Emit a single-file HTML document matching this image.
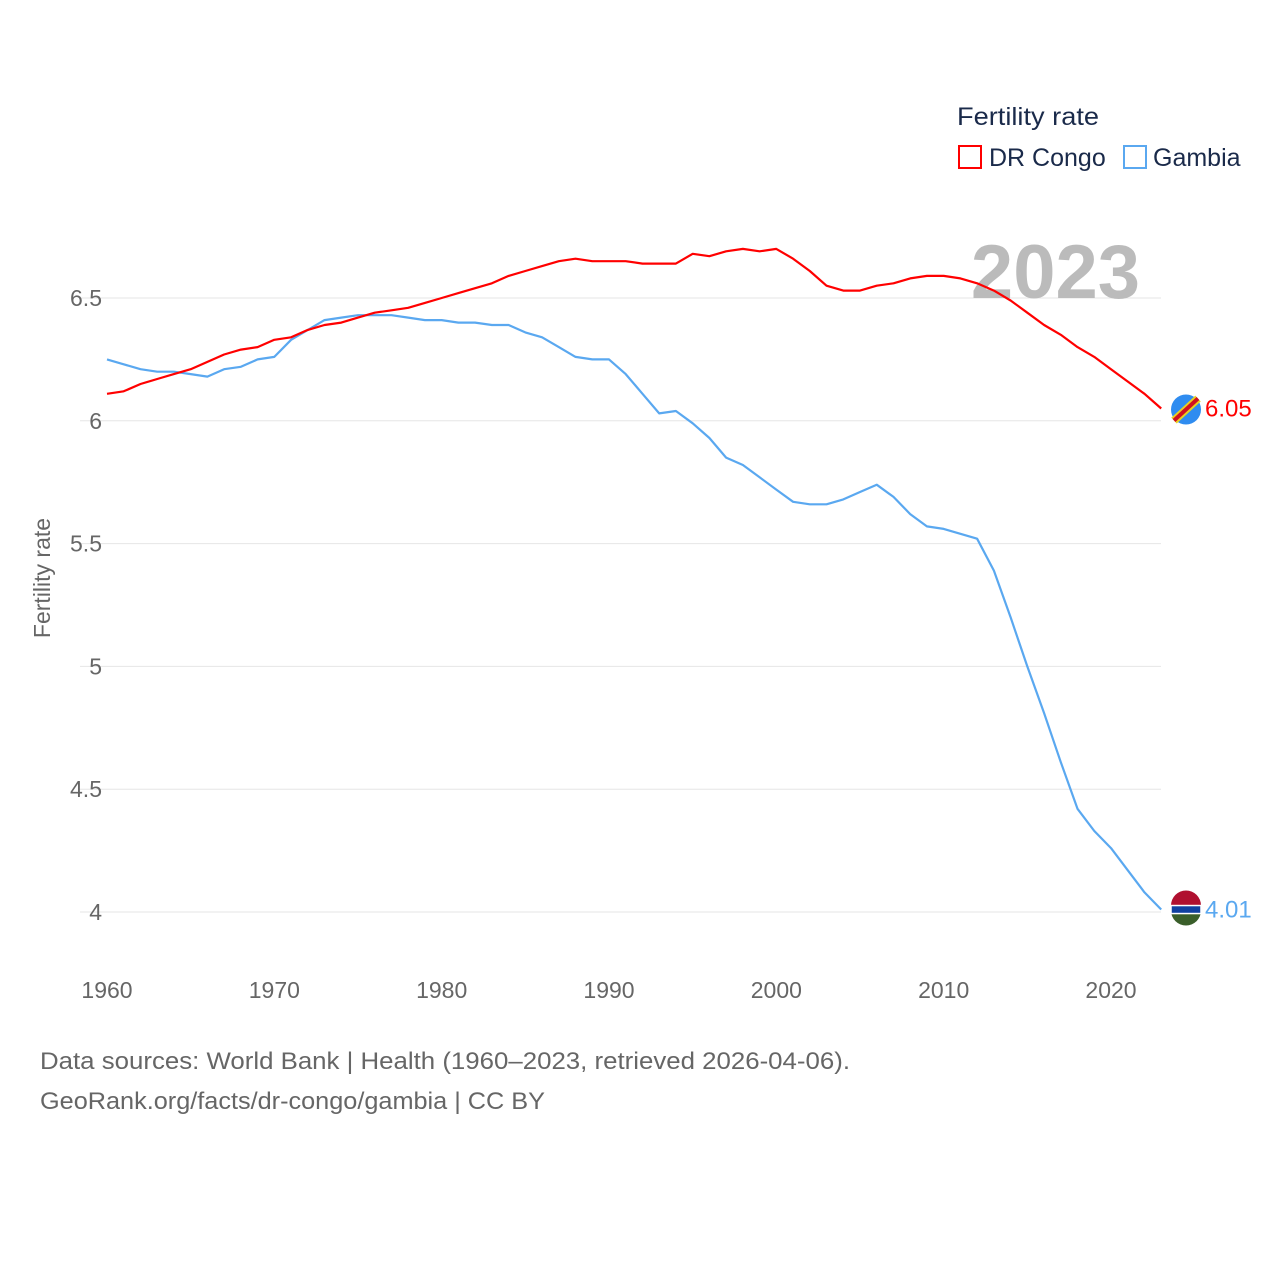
<!DOCTYPE html>
<html><head><meta charset="utf-8"><style>
html,body{margin:0;padding:0;background:#fff;}
svg text{font-family:"Liberation Sans",sans-serif;}
</style></head><body>
<svg id="chart" width="1280" height="1280" viewBox="0 0 1280 1280" xmlns="http://www.w3.org/2000/svg">
<g id="grid"></g>
<g id="axes"></g>
<text x="50" y="578" transform="rotate(-90 50 578)" text-anchor="middle" font-size="23" fill="#666">Fertility rate</text>
<text x="1140" y="298" text-anchor="end" font-size="76" font-weight="bold" fill="#bbb">2023</text>
<g id="series"></g>
<g>
<text x="957" y="125" font-size="25" fill="#1a2a4a" textLength="142" lengthAdjust="spacingAndGlyphs">Fertility rate</text>
<rect x="959" y="146" width="22" height="22" fill="none" stroke="#f00" stroke-width="2"/>
<text x="989" y="166" font-size="25" fill="#1a2a4a">DR Congo</text>
<rect x="1124" y="146" width="22" height="22" fill="none" stroke="#5aa8f0" stroke-width="2"/>
<text x="1153" y="166" font-size="25" fill="#1a2a4a">Gambia</text>
</g>
<text x="40" y="1069" font-size="24" fill="#666" textLength="810" lengthAdjust="spacingAndGlyphs">Data sources: World Bank | Health (1960–2023, retrieved 2026-04-06).</text>
<text x="40" y="1109" font-size="24" fill="#666" textLength="505" lengthAdjust="spacingAndGlyphs">GeoRank.org/facts/dr-congo/gambia | CC BY</text>
</svg>
<script>
const years = [];
for (let y = 1960; y <= 2023; y++) years.push(y);
const drCongo = [6.11,6.12,6.15,6.17,6.19,6.21,6.24,6.27,6.29,6.30,6.33,6.34,6.37,6.39,6.40,6.42,6.44,6.45,6.46,6.48,6.50,6.52,6.54,6.56,6.59,6.61,6.63,6.65,6.66,6.65,6.65,6.65,6.64,6.64,6.64,6.68,6.67,6.69,6.70,6.69,6.70,6.66,6.61,6.55,6.53,6.53,6.55,6.56,6.58,6.59,6.59,6.58,6.56,6.53,6.49,6.44,6.39,6.35,6.30,6.26,6.21,6.16,6.11,6.05];
const gambia = [6.25,6.23,6.21,6.20,6.20,6.19,6.18,6.21,6.22,6.25,6.26,6.33,6.37,6.41,6.42,6.43,6.43,6.43,6.42,6.41,6.41,6.40,6.40,6.39,6.39,6.36,6.34,6.30,6.26,6.25,6.25,6.19,6.11,6.03,6.04,5.99,5.93,5.85,5.82,5.77,5.72,5.67,5.66,5.66,5.68,5.71,5.74,5.69,5.62,5.57,5.56,5.54,5.52,5.39,5.20,5.00,4.81,4.61,4.42,4.33,4.26,4.17,4.08,4.01];
const yTicks = [4,4.5,5,5.5,6,6.5];
const yTickLabels = ["4","4.5","5","5.5","6","6.5"];
const xTicks = [1960,1970,1980,1990,2000,2010,2020];

const NS = "http://www.w3.org/2000/svg";
const xs = yr => 107 + (yr - 1960) * (1111 - 107) / 60;
const ys = v => 912 - (v - 4) * (912 - 298) / 2.5;
function mk(tag, attrs, parent, txt) {
  const e = document.createElementNS(NS, tag);
  for (const k in attrs) e.setAttribute(k, attrs[k]);
  if (txt !== undefined) e.textContent = txt;
  parent.appendChild(e);
  return e;
}
const grid = document.getElementById('grid');
const axes = document.getElementById('axes');
const series = document.getElementById('series');
yTicks.forEach((t, i) => {
  const l = mk('line', {x1: 80, x2: 1161, y1: ys(t), y2: ys(t), stroke: '#e6e6e6', 'stroke-width': 1}, grid);
  
  
  const tx = mk('text', {x: 102, y: ys(t) + 8, 'text-anchor': 'end', 'font-size': 23, fill: '#666'}, axes, yTickLabels[i]);
  
  
});
xTicks.forEach(t => {
  const tx = mk('text', {x: xs(t), y: 998, 'text-anchor': 'middle', 'font-size': 23, fill: '#666'}, axes, String(t));
  
  
});
function line(vals, color, name) {
  const d = vals.map((v, i) => (i ? 'L' : 'M') + xs(years[i]).toFixed(1) + ',' + ys(v).toFixed(1)).join('');
  const p = mk('path', {d: d, fill: 'none', stroke: color, 'stroke-width': 2.2, 'stroke-linejoin': 'round'}, series);
  
  
  const last = vals[vals.length - 1];
  const cy = ys(last);
  const c = mk('circle', {cx: 1186, cy: cy + 1, r: 15, fill: color === '#f00' ? '#2f8cf0' : '#3a5e2a'}, series);
  
  
  if (color === '#f00') {
    const s = mk('line', {x1: 1174, y1: cy + 12, x2: 1198, y2: cy - 10, stroke: '#e8d020', 'stroke-width': 8}, series);
    
    
    const s2 = mk('line', {x1: 1174, y1: cy + 12, x2: 1198, y2: cy - 10, stroke: '#d01020', 'stroke-width': 4}, series);
    
    
  } else {
    const r1 = mk('path', {d: `M1171,${cy - 4} A15,15 0 0 1 1201,${cy - 4} Z`, fill: '#b01030'}, series);
    
    
    const r2 = mk('rect', {x: 1171, y: cy - 4, width: 30, height: 8, fill: '#1040a0', stroke: '#fff', 'stroke-width': 1.5}, series);
    
    
  }
  const t = mk('text', {x: 1205, y: cy + 8, 'font-size': 24, fill: color}, series, last.toFixed(2));
  
  
}
line(gambia, '#5aa8f0', 'gambia');
line(drCongo, '#f00', 'dr-congo');
</script>
</body></html>
